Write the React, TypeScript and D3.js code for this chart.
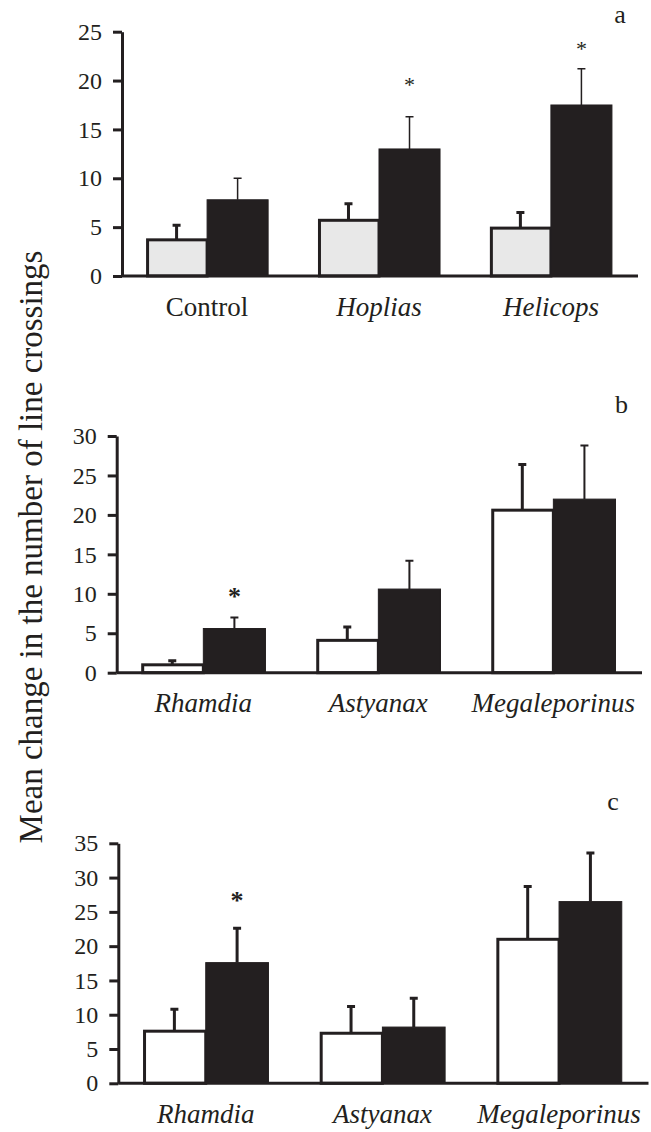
import React, { useRef, useEffect } from "react";
import * as d3 from "d3";

// panel a
const catsA = ["Control", "Hoplias", "Helicops"];
const lightA = [3.7, 5.7, 4.9];
const lightErrA = [1.5, 1.7, 1.6];
const darkA = [7.8, 13.0, 17.5];
const darkErrA = [2.2, 3.3, 3.7];
const starsA = [null, 19.9, 23.6];
const ticksA = [0, 5, 10, 15, 20, 25];

// panel b
const catsB = ["Rhamdia", "Astyanax", "Megaleporinus"];
const lightB = [1.0, 4.1, 20.6];
const lightErrB = [0.5, 1.7, 5.8];
const darkB = [5.6, 10.6, 22.0];
const darkErrB = [1.4, 3.6, 6.8];
const starsB = [10.1, null, null];
const ticksB = [0, 5, 10, 15, 20, 25, 30];

// panel c
const catsC = ["Rhamdia", "Astyanax", "Megaleporinus"];
const lightC = [7.6, 7.3, 21.0];
const lightErrC = [3.2, 3.9, 7.7];
const darkC = [17.6, 8.2, 26.5];
const darkErrC = [5.0, 4.2, 7.1];
const starsC = [27.2, null, null];
const ticksC = [0, 5, 10, 15, 20, 25, 30, 35];

const yTitle = "Mean change in the number of line crossings";
const FONT = "'Liberation Serif', 'Times New Roman', serif";
const DARK = "#231f20";

const panels = [
  {
    letter: "a", cats: catsA, light: lightA, lightErr: lightErrA, dark: darkA, darkErr: darkErrA,
    stars: starsA, ticks: ticksA, italic: [false, true, true],
    x0: 122, x1: 636, y0: 276, y1: 31.7, lightFill: "#e8e8e8",
    darkErrW: 1.5, starBold: false, letterPos: [620, 23],
  },
  {
    letter: "b", cats: catsB, light: lightB, lightErr: lightErrB, dark: darkB, darkErr: darkErrB,
    stars: starsB, ticks: ticksB, italic: [true, true, true],
    x0: 116.7, x1: 640, y0: 672.7, y1: 436, lightFill: "#ffffff",
    darkErrW: 2, starBold: true, letterPos: [621.5, 413],
  },
  {
    letter: "c", cats: catsC, light: lightC, lightErr: lightErrC, dark: darkC, darkErr: darkErrC,
    stars: starsC, ticks: ticksC, italic: [true, true, true],
    x0: 118.3, x1: 646.5, y0: 1083.3, y1: 843.3, lightFill: "#ffffff",
    darkErrW: 3, starBold: true, letterPos: [613, 810],
  },
];

const App = () => {
  const ref = useRef<SVGSVGElement>(null);

  useEffect(() => {
    const svg = d3.select(ref.current);
    svg.selectAll("*").remove();

    panels.forEach((p) => {
      const g = svg.append("g");
      const y = d3
        .scaleLinear()
        .domain([0, p.ticks[p.ticks.length - 1]])
        .range([p.y0, p.y1]);
      const x = d3
        .scaleBand()
        .domain(p.cats)
        .range([p.x0, p.x1])
        .paddingInner(0.29)
        .paddingOuter(0.14);
      const sub = d3
        .scaleBand()
        .domain(["light", "dark"])
        .range([0, x.bandwidth()]);

      const rows = p.cats.map((c, i) => ({
        cat: c,
        light: p.light[i],
        lightErr: p.lightErr[i],
        dark: p.dark[i],
        darkErr: p.darkErr[i],
        star: p.stars[i],
        italic: p.italic[i],
      }));

      // error bars (drawn first so the bars cover the lower end)
      const errs = rows.flatMap((d) => [
        { key: "light", cat: d.cat, v: d.light, e: d.lightErr, w: 3 },
        { key: "dark", cat: d.cat, v: d.dark, e: d.darkErr, w: p.darkErrW },
      ]);
      const cx = (d) => (x(d.cat) as number) + (sub(d.key) as number) + sub.bandwidth() / 2;
      g.selectAll(".err")
        .data(errs)
        .join("path")
        .attr("d", (d) => {
          const xc = cx(d);
          const top = y(d.v + d.e);
          return `M${xc},${y(d.v)}V${top}M${xc - 4},${top}H${xc + 4}`;
        })
        .attr("stroke", DARK)
        .attr("stroke-width", (d) => d.w)
        .attr("fill", "none");

      // light bars
      g.selectAll(".lightBar")
        .data(rows)
        .join("rect")
        .attr("x", (d) => (x(d.cat) as number) + 1.5)
        .attr("y", (d) => y(d.light))
        .attr("width", sub.bandwidth() - 1.5)
        .attr("height", (d) => p.y0 - y(d.light))
        .attr("fill", p.lightFill)
        .attr("stroke", DARK)
        .attr("stroke-width", 3);

      // dark bars
      g.selectAll(".darkBar")
        .data(rows)
        .join("rect")
        .attr("x", (d) => (x(d.cat) as number) + (sub("dark") as number))
        .attr("y", (d) => y(d.dark))
        .attr("width", sub.bandwidth())
        .attr("height", (d) => p.y0 - y(d.dark))
        .attr("fill", DARK)
        .attr("stroke", DARK)
        .attr("stroke-width", 1);

      // significance stars
      const fs = p.starBold ? 26 : 22;
      g.selectAll(".star")
        .data(rows.filter((d) => d.star != null))
        .join("text")
        .attr("x", (d) => (x(d.cat) as number) + (sub("dark") as number) + sub.bandwidth() / 2)
        .attr("y", (d) => y(d.star as number) + fs * 0.47)
        .attr("text-anchor", "middle")
        .attr("font-family", FONT)
        .attr("font-weight", p.starBold ? "bold" : "normal")
        .attr("font-size", fs)
        .attr("fill", DARK)
        .text("*");

      // y axis
      const yAxis = d3
        .axisLeft(y)
        .tickValues(p.ticks)
        .tickSize(9)
        .tickSizeOuter(0)
        .tickPadding(11)
        .tickFormat(d3.format("d"));
      const ay = g.append("g").attr("transform", `translate(${p.x0},0)`).call(yAxis);
      ay.select(".domain").attr("stroke", DARK).attr("stroke-width", 3);
      ay.selectAll(".tick line").attr("stroke", DARK).attr("stroke-width", 3);
      ay.selectAll(".tick text")
        .attr("font-family", FONT)
        .attr("font-size", 24)
        .attr("fill", DARK);

      // x axis line
      g.append("line")
        .attr("x1", p.x0)
        .attr("x2", p.x1 + 2)
        .attr("y1", p.y0)
        .attr("y2", p.y0)
        .attr("stroke", DARK)
        .attr("stroke-width", 3);

      // category labels
      g.selectAll(".cat")
        .data(rows)
        .join("text")
        .attr("x", (d) => (x(d.cat) as number) + x.bandwidth() / 2)
        .attr("y", p.y0 + 39.5)
        .attr("text-anchor", "middle")
        .attr("font-family", FONT)
        .attr("font-style", (d) => (d.italic ? "italic" : "normal"))
        .attr("font-size", 27)
        .attr("fill", DARK)
        .text((d) => d.cat);

      // panel letter
      g.append("text")
        .attr("x", p.letterPos[0])
        .attr("y", p.letterPos[1])
        .attr("text-anchor", "middle")
        .attr("font-family", FONT)
        .attr("font-size", 26)
        .attr("fill", DARK)
        .text(p.letter);
    });

    svg
      .append("text")
      .attr("transform", "translate(41.5,547) rotate(-90)")
      .attr("text-anchor", "middle")
      .attr("font-family", FONT)
      .attr("font-size", 33)
      .attr("fill", DARK)
      .text(yTitle);
  }, []);

  return (
    <svg
      ref={ref}
      width={651}
      height={1132}
      viewBox="0 0 651 1132"
      style={{ position: "absolute", left: 0, top: 0, background: "#fff" }}
    />
  );
};

export default App;
